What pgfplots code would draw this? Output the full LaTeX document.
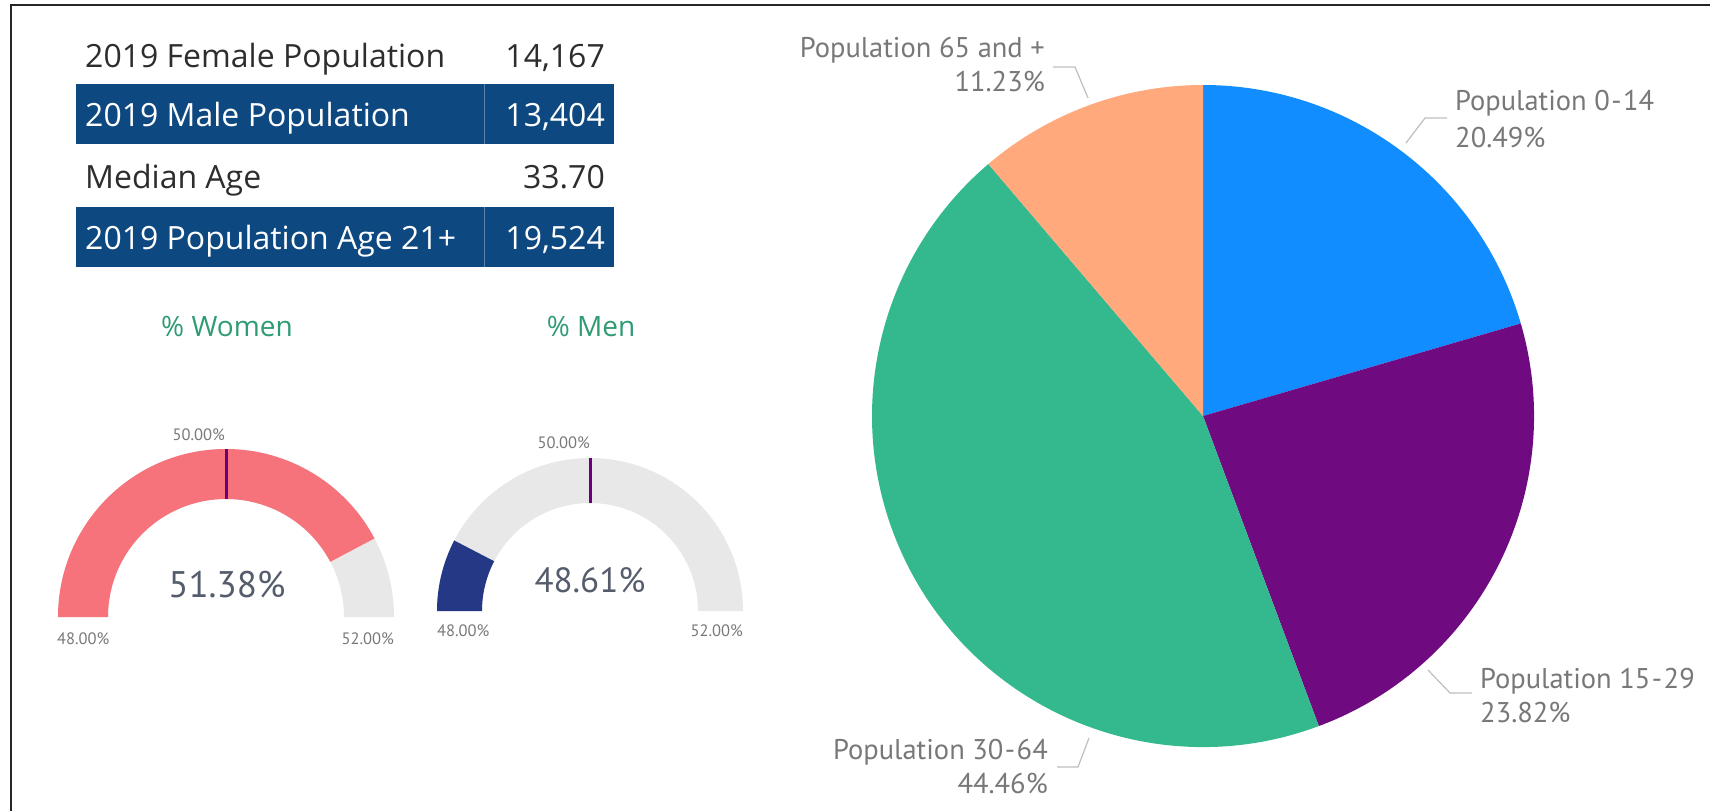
\documentclass[border=0pt]{standalone}
\usepackage{fontspec}
\setmainfont{Open Sans}
\newfontfamily\din{PT Sans}
\usepackage{pgfplots}
\usepackage{pgfplotstable}
\pgfplotsset{compat=1.18}
\usetikzlibrary{calc}

\definecolor{pieblue}{RGB}{17,141,255}
\definecolor{piepurple}{RGB}{111,10,128}
\definecolor{piegreen}{RGB}{52,185,143}
\definecolor{pieorange}{RGB}{255,169,124}
\definecolor{gpink}{RGB}{246,115,124}
\definecolor{gnavy}{RGB}{37,56,133}
\definecolor{ggray}{RGB}{232,232,232}
\definecolor{gtarget}{RGB}{107,0,123}
\definecolor{tnavy}{RGB}{13,72,128}
\definecolor{tdiv}{RGB}{90,130,175}
\definecolor{tgreen}{RGB}{46,155,115}
\definecolor{lblgray}{RGB}{120,120,120}
\definecolor{leadgray}{RGB}{190,190,190}
\definecolor{valgray}{RGB}{85,92,108}
\definecolor{txtdark}{RGB}{45,45,45}

\newcommand\fs[1]{\fontsize{#1}{#1}\selectfont}
\newcommand\hy{\kern1.5pt-\kern1.5pt}

% pie: share of each age group (%)
\pgfplotstableread{
slice value
1 20.49
2 23.82
3 44.46
4 11.23
}\pietable
% gauges: value, min, max, target (%)
\pgfplotstableread{
gauge value min max target
1 51.38 48 52 50
2 48.61 48 52 50
}\gaugetable

\begin{document}
\begin{tikzpicture}[every node/.append style={inner sep=0pt}]
\pgfplotstablegetelem{0}{value}\of\pietable \let\pA\pgfplotsretval
\pgfplotstablegetelem{1}{value}\of\pietable \let\pB\pgfplotsretval
\pgfplotstablegetelem{2}{value}\of\pietable \let\pC\pgfplotsretval
\pgfplotstablegetelem{3}{value}\of\pietable \let\pD\pgfplotsretval
\pgfmathsetmacro\angA{90-3.6*\pA}
\pgfmathsetmacro\angB{\angA-3.6*\pB}
\pgfmathsetmacro\angC{\angB-3.6*\pC}
\pgfmathsetmacro\angD{\angC-3.6*\pD}
\pgfplotstablegetelem{0}{value}\of\gaugetable \let\gW\pgfplotsretval
\pgfplotstablegetelem{1}{value}\of\gaugetable \let\gM\pgfplotsretval
\pgfmathsetmacro\angW{180-180*(\gW-48)/(52-48)}
\pgfmathsetmacro\angM{180-180*(\gM-48)/(52-48)}
\pgfmathsetmacro\angT{180-180*(50-48)/(52-48)}
\begin{axis}[x=1pt, y=1pt, y dir=reverse, xmin=0, xmax=1710, ymin=0, ymax=811,
  axis lines=none, clip=false]
\coordinate (SW) at (axis cs:0,811);
\coordinate (NE) at (axis cs:1710,0);
% frame
\draw[line width=2pt, black!85] (axis cs:11,811) -- (axis cs:11,5) -- (axis cs:1710,5);
% table
\fill[tnavy] (axis cs:76,84) rectangle (axis cs:614,144);
\fill[tnavy] (axis cs:76,207) rectangle (axis cs:614,267);
\draw[tdiv, line width=1pt] (axis cs:484,84) -- (axis cs:484,144);
\draw[tdiv, line width=1pt] (axis cs:484,207) -- (axis cs:484,267);
\node[anchor=base west, text=txtdark, font=\fs{32}] at (axis cs:85,67) {2019 Female Population};
\node[anchor=base east, text=txtdark, font=\fs{32}] at (axis cs:605,67) {14,167};
\node[anchor=base west, text=white, font=\fs{32}] at (axis cs:85,126) {2019 Male Population};
\node[anchor=base east, text=white, font=\fs{32}] at (axis cs:605,126) {13,404};
\node[anchor=base west, text=txtdark, font=\fs{32}] at (axis cs:85,188) {Median Age};
\node[anchor=base east, text=txtdark, font=\fs{32}] at (axis cs:605,188) {33.70};
\node[anchor=base west, text=white, font=\fs{32}] at (axis cs:85,249) {2019 Population Age 21+};
\node[anchor=base east, text=white, font=\fs{32}] at (axis cs:605,249) {19,524};
% titles
\node[text=tgreen, font=\fs{28}] at (axis cs:227,326) {\% Women};
\node[text=tgreen, font=\fs{28}] at (axis cs:591,326) {\% Men};
% women gauge
\coordinate (WC) at (axis cs:226,617);
\fill[ggray] ($(WC)+(180:168pt)$) arc[start angle=180,end angle=0,radius=168pt] -- ($(WC)+(0:118pt)$) arc[start angle=0,end angle=180,radius=118pt] -- cycle;
\fill[gpink] ($(WC)+(180:168pt)$) arc[start angle=180,end angle=\angW,radius=168pt] -- ($(WC)+(\angW:118pt)$) arc[start angle=\angW,end angle=180,radius=118pt] -- cycle;
\draw[gtarget, line width=3pt] ($(WC)+(\angT:118pt)$) -- ($(WC)+(\angT:168pt)$);
\node[text=valgray, font=\din\fs{37}] at (axis cs:227,585) {\gW\%};
\node[anchor=east, text=lblgray, font=\din\fs{16.5}] at (axis cs:225,435) {50.00\%};
\node[anchor=west, text=lblgray, font=\din\fs{16.5}] at (axis cs:57,639) {48.00\%};
\node[anchor=east, text=lblgray, font=\din\fs{16.5}] at (axis cs:394,639) {52.00\%};
% men gauge
\coordinate (MC) at (axis cs:590,611);
\fill[ggray] ($(MC)+(180:153pt)$) arc[start angle=180,end angle=0,radius=153pt] -- ($(MC)+(0:108pt)$) arc[start angle=0,end angle=180,radius=108pt] -- cycle;
\fill[gnavy] ($(MC)+(180:153pt)$) arc[start angle=180,end angle=\angM,radius=153pt] -- ($(MC)+(\angM:108pt)$) arc[start angle=\angM,end angle=180,radius=108pt] -- cycle;
\draw[gtarget, line width=3pt] ($(MC)+(\angT:108pt)$) -- ($(MC)+(\angT:153pt)$);
\node[text=valgray, font=\din\fs{35}] at (axis cs:590,580) {\gM\%};
\node[anchor=east, text=lblgray, font=\din\fs{16.5}] at (axis cs:590,443) {50.00\%};
\node[anchor=west, text=lblgray, font=\din\fs{16.5}] at (axis cs:437,631) {48.00\%};
\node[anchor=east, text=lblgray, font=\din\fs{16.5}] at (axis cs:743,631) {52.00\%};
% pie
\fill[pieblue] (axis cs:1203,416) -- ++(90:331pt) arc[start angle=90, end angle=\angA, radius=331pt] -- cycle;
\fill[piepurple] (axis cs:1203,416) -- ++(\angA:331pt) arc[start angle=\angA, end angle=\angB, radius=331pt] -- cycle;
\fill[piegreen] (axis cs:1203,416) -- ++(\angB:331pt) arc[start angle=\angB, end angle=\angC, radius=331pt] -- cycle;
\fill[pieorange] (axis cs:1203,416) -- ++(\angC:331pt) arc[start angle=\angC, end angle=\angD, radius=331pt] -- cycle;
% leaders
\draw[leadgray, line width=1.2pt] (axis cs:1053,67) -- (axis cs:1075,67) -- (axis cs:1088,98);
\draw[leadgray, line width=1.2pt] (axis cs:1447,118) -- (axis cs:1425,118) -- (axis cs:1406,143);
\draw[leadgray, line width=1.2pt] (axis cs:1472,693) -- (axis cs:1450,693) -- (axis cs:1428,670);
\draw[leadgray, line width=1.2pt] (axis cs:1057,767) -- (axis cs:1078,767) -- (axis cs:1089,738);
% pie labels
\node[anchor=east, text=lblgray, font=\din\fs{28.5}] at (axis cs:1045,50) {Population 65 and +};
\node[anchor=east, text=lblgray, font=\din\fs{28.5}] at (axis cs:1045,82) {\pD\%};
\node[anchor=west, text=lblgray, font=\din\fs{28.5}] at (axis cs:1455,103) {Population 0\hy14};
\node[anchor=west, text=lblgray, font=\din\fs{28.5}] at (axis cs:1455,138) {\pA\%};
\node[anchor=west, text=lblgray, font=\din\fs{28.5}] at (axis cs:1480,681) {Population 15\hy29};
\node[anchor=west, text=lblgray, font=\din\fs{28.5}] at (axis cs:1480,713) {\pB\%};
\node[anchor=east, text=lblgray, font=\din\fs{28.5}] at (axis cs:1048,752) {Population 30\hy64};
\node[anchor=east, text=lblgray, font=\din\fs{28.5}] at (axis cs:1048,783) {\pC\%};
\end{axis}
\pgfresetboundingbox
\path[use as bounding box] (SW) rectangle (NE);
\end{tikzpicture}
\end{document}
